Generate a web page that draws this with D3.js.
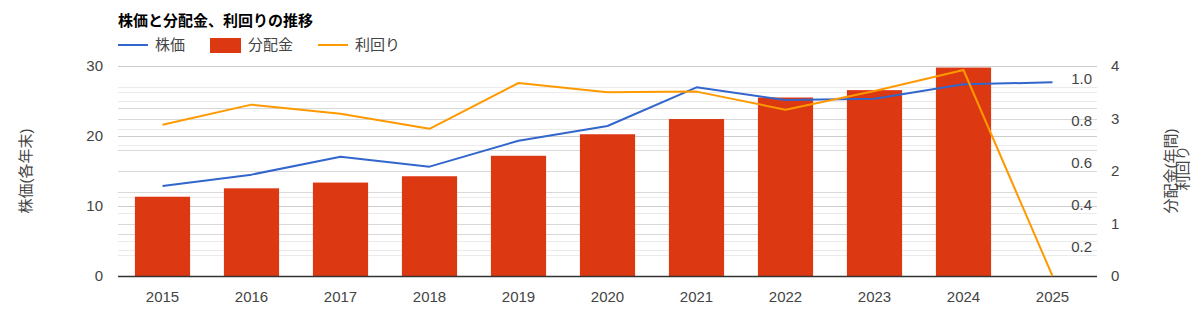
<!DOCTYPE html>
<html>
<head>
<meta charset="utf-8">
<script src="https://cdn.jsdelivr.net/npm/d3@7"></script>
<style>
  html, body { margin: 0; padding: 0; background: #fff; }
  svg { display: block; }
  text { font-family: Arial, "Liberation Sans", "Noto Sans CJK JP", sans-serif; }
</style>
</head>
<body>
<svg id="chart" width="1200" height="333"></svg>
<script>
const years = ["2015","2016","2017","2018","2019","2020","2021","2022","2023","2024","2025"];
const price = [12.86, 14.48, 17.05, 15.62, 19.33, 21.43, 26.95, 25.14, 25.33, 27.38, 27.67];
const dividend = [1.51, 1.67, 1.78, 1.90, 2.29, 2.70, 2.99, 3.40, 3.54, 3.97, null];
const yieldVals = [0.72, 0.816, 0.773, 0.701, 0.919, 0.875, 0.878, 0.792, 0.881, 0.981, 0];
const leftTicks = [0, 10, 20, 30];
const rightTicks = [0, 1, 2, 3, 4];
const yieldTicks = [0.2, 0.4, 0.6, 0.8, 1.0];

const title = "株価と分配金、利回りの推移";
const seriesNames = ["株価", "分配金", "利回り"];
const colors = { price: "#3366cc", dividend: "#dc3912", yield: "#ff9900" };

const svg = d3.select("#chart");
const plot = { left: 118, right: 1097, top: 66, bottom: 276 };

const x = d3.scaleBand().domain(years).range([plot.left, plot.right]).paddingInner(0.38).paddingOuter(0.19);
const xc = d => x(d) + x.bandwidth() / 2;
const yL = d3.scaleLinear().domain([0, 30]).range([plot.bottom, plot.top]);
const yR = d3.scaleLinear().domain([0, 4]).range([plot.bottom, plot.top]);
const yY = d3.scaleLinear().domain([0, 1]).range([plot.bottom, plot.top]);

// Gridlines
const grid = svg.append("g");
function hline(y, color) {
  grid.append("line").attr("x1", plot.left).attr("x2", plot.right)
    .attr("y1", Math.round(y) + 0.5).attr("y2", Math.round(y) + 0.5)
    .attr("stroke", color).attr("stroke-width", 1);
}
// minor
d3.range(0, 30.01, 5).filter(v => v % 10 !== 0).forEach(v => hline(yL(v), "#ebebeb"));
d3.range(0.5, 4, 1).forEach(v => hline(yR(v), "#ebebeb"));
d3.range(0.1, 1, 0.2).forEach(v => hline(yY(v), "#ebebeb"));
// major
yieldTicks.forEach(v => hline(yY(v), "#d9d9d9"));
rightTicks.filter(v => v > 0).forEach(v => hline(yR(v), "#d9d9d9"));
leftTicks.filter(v => v > 0).forEach(v => hline(yL(v), "#cccccc"));

// Bars
svg.append("g").selectAll("rect").data(years.map((yr, i) => ({ yr, v: dividend[i] })).filter(d => d.v != null))
  .join("rect")
  .attr("x", d => x(d.yr)).attr("width", x.bandwidth())
  .attr("y", d => yR(d.v)).attr("height", d => yR(0) - yR(d.v))
  .attr("fill", colors.dividend);

// Baseline
svg.append("line").attr("x1", plot.left).attr("x2", plot.right)
  .attr("y1", plot.bottom + 0.5).attr("y2", plot.bottom + 0.5)
  .attr("stroke", "#333").attr("stroke-width", 1.5);

// Lines
const linePrice = d3.line().x((d, i) => xc(years[i])).y(d => yL(d));
const lineYield = d3.line().x((d, i) => xc(years[i])).y(d => yY(d));
svg.append("path").attr("d", linePrice(price)).attr("fill", "none")
  .attr("stroke", colors.price).attr("stroke-width", 2).attr("stroke-linejoin", "round");
svg.append("path").attr("d", lineYield(yieldVals)).attr("fill", "none")
  .attr("stroke", colors.yield).attr("stroke-width", 2).attr("stroke-linejoin", "round");

// Axes labels
const tickStyle = s => s.attr("font-size", 15).attr("fill", "#444");
svg.append("g").selectAll("text").data(leftTicks).join("text")
  .attr("x", 103).attr("y", d => yL(d)).attr("dy", "0.35em").attr("text-anchor", "end")
  .text(d => d).call(tickStyle);
svg.append("g").selectAll("text").data(rightTicks).join("text")
  .attr("x", 1111).attr("y", d => yR(d)).attr("dy", "0.35em").attr("text-anchor", "start")
  .text(d => d).call(tickStyle);
svg.append("g").selectAll("text").data(yieldTicks).join("text")
  .attr("x", 1092).attr("y", d => yY(d) + 13).attr("dy", "0.35em").attr("text-anchor", "end")
  .text(d => d3.format(".1f")(d)).call(tickStyle);
svg.append("g").selectAll("text").data(years).join("text")
  .attr("x", d => xc(d)).attr("y", 297).attr("dy", "0.35em").attr("text-anchor", "middle")
  .text(d => d).call(tickStyle);

// Axis titles
svg.append("text").attr("transform", "translate(26,171) rotate(-90)")
  .attr("text-anchor", "middle").attr("dy", "0.35em").text("株価(各年末)").call(tickStyle);
svg.append("text").attr("transform", "translate(1171,171) rotate(-90)")
  .attr("text-anchor", "middle").attr("dy", "0.35em").text("分配金(年間)").call(tickStyle);
svg.append("text").attr("transform", "translate(1183,168) rotate(-90)")
  .attr("text-anchor", "middle").attr("dy", "0.35em").text("利回り").call(tickStyle);

// Title
svg.append("text").attr("x", 118).attr("y", 21).attr("dy", "0.35em")
  .attr("font-size", 15).attr("font-weight", "bold").attr("fill", "#000").text(title);

// Legend
const lg = svg.append("g");
lg.append("line").attr("x1", 118).attr("x2", 148).attr("y1", 45).attr("y2", 45)
  .attr("stroke", colors.price).attr("stroke-width", 2);
lg.append("text").attr("x", 155).attr("y", 45).attr("dy", "0.35em").text(seriesNames[0]).call(tickStyle);
lg.append("rect").attr("x", 210).attr("y", 38).attr("width", 31).attr("height", 15).attr("fill", colors.dividend);
lg.append("text").attr("x", 248).attr("y", 45).attr("dy", "0.35em").text(seriesNames[1]).call(tickStyle);
lg.append("line").attr("x1", 318).attr("x2", 348).attr("y1", 45).attr("y2", 45)
  .attr("stroke", colors.yield).attr("stroke-width", 2);
lg.append("text").attr("x", 355).attr("y", 45).attr("dy", "0.35em").text(seriesNames[2]).call(tickStyle);
</script>
</body>
</html>
